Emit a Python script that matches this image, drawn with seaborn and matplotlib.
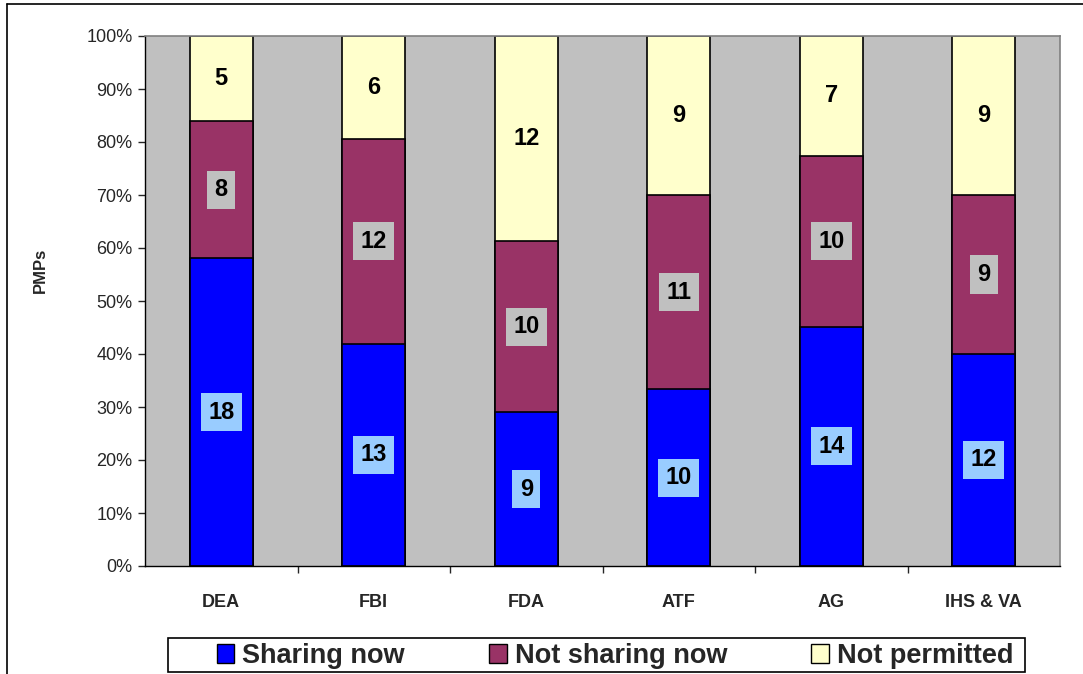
import numpy as np
import pandas as pd
import matplotlib
matplotlib.use("Agg")
import matplotlib.pyplot as plt
from matplotlib.lines import Line2D
from matplotlib.patches import Patch, Rectangle
from matplotlib.ticker import PercentFormatter, FixedLocator
import seaborn as sns

# Counts of PMPs per agency
agencies = ["DEA", "FBI", "FDA", "ATF", "AG", "IHS & VA"]
sharing_now = [18, 13, 9, 10, 14, 12]
not_sharing_now = [8, 12, 10, 11, 10, 9]
not_permitted = [5, 6, 12, 9, 7, 9]

series_names = ["Sharing now", "Not sharing now", "Not permitted"]
colors = ["#0000FF", "#993366", "#FFFFCC"]
label_bg = ["#99CCFF", "#C0C0C0", None]

sns.set_style("white")
plt.rcParams["font.family"] = ["Liberation Sans", "DejaVu Sans"]

counts = np.array([sharing_now, not_sharing_now, not_permitted], dtype=float)
totals = counts.sum(axis=0)
shares = counts / totals * 100.0
cum = np.cumsum(shares, axis=0)

W, H = 1083, 674
fig = plt.figure(figsize=(W / 100, H / 100), dpi=100)
ax = fig.add_axes([145 / W, 1 - 566 / H, (1060 - 145) / W, (566 - 36) / H])
ax.set_facecolor("#C0C0C0")

bar_width = 0.41
# Stack by overlaying cumulative heights, tallest first
for i in reversed(range(3)):
    df = pd.DataFrame({"agency": agencies, "value": cum[i]})
    sns.barplot(data=df, x="agency", y="value", order=agencies, color=colors[i],
                saturation=1, width=bar_width, edgecolor="black", linewidth=1.2,
                ax=ax, zorder=2)

# Segment labels with the counts
for i in range(3):
    for j in range(len(agencies)):
        y = cum[i, j] - shares[i, j] / 2
        bbox = None
        if label_bg[i] is not None:
            bbox = dict(boxstyle="square,pad=0.32", facecolor=label_bg[i], edgecolor="none")
        ax.text(j, y, f"{int(counts[i, j])}", ha="center", va="center",
                fontsize=17, fontweight="bold", color="black", bbox=bbox, zorder=5)

ax.set_ylim(0, 100)
ax.set_xlim(-0.5, len(agencies) - 0.5)
ax.set_yticks(np.arange(0, 101, 10))
ax.yaxis.set_major_formatter(PercentFormatter(decimals=0))
ax.tick_params(axis="y", which="major", left=True, length=5, width=1, direction="out",
               labelsize=13, pad=4)
ax.tick_params(axis="x", which="major", bottom=False, labelsize=13, pad=17)
for lbl in ax.get_xticklabels():
    lbl.set_fontweight("bold")
ax.xaxis.set_minor_locator(FixedLocator(np.arange(0.5, len(agencies) - 1, 1)))
ax.tick_params(axis="x", which="minor", bottom=True, length=5, width=1, direction="out")

ax.set_xlabel("")
ax.set_ylabel("PMPs", fontsize=12, fontweight="bold")
ax.yaxis.set_label_coords((48 - 145) / (1060 - 145), (566 - 270) / (566 - 36))

for side in ["left", "bottom"]:
    ax.spines[side].set_color("black")
    ax.spines[side].set_linewidth(1)
for side in ["top", "right"]:
    ax.spines[side].set_visible(True)
    ax.spines[side].set_color("#808080")
    ax.spines[side].set_linewidth(1.2)

# Legend along the bottom, inside its own box
frame = Rectangle((168 / W, 1 - 672 / H), (1025 - 168) / W, (672 - 638) / H,
                  transform=fig.transFigure, facecolor="white", edgecolor="black", lw=1.2)
fig.add_artist(frame)
handles = [Patch(facecolor=c, edgecolor="black", linewidth=1) for c in colors]
leg = fig.legend(handles, series_names, loc="center",
                 bbox_to_anchor=(615 / W, 1 - 656 / H),
                 ncol=3, frameon=False,
                 prop={"size": 19.5, "weight": "bold"}, handlelength=0.65, handleheight=0.65,
                 handletextpad=0.3, borderpad=0.1, borderaxespad=0, columnspacing=3.1)

# Outer chart frame
fig.add_artist(Line2D([7 / W, 1], [1 - 4 / H, 1 - 4 / H], color="black", lw=1.2,
                      transform=fig.transFigure))
fig.add_artist(Line2D([7 / W, 7 / W], [0, 1 - 4 / H], color="black", lw=1.2,
                      transform=fig.transFigure))

fig.savefig("out.png", dpi=100, facecolor="white")
